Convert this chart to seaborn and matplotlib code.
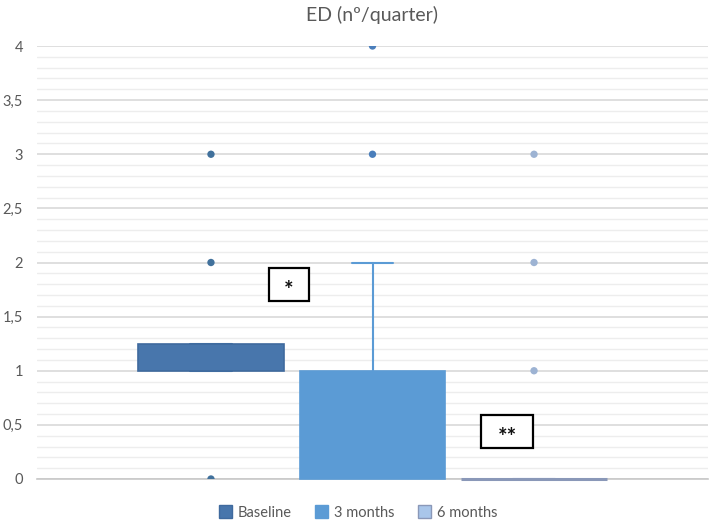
import matplotlib
matplotlib.use("Agg")
import matplotlib.pyplot as plt
import seaborn as sns
import pandas as pd
from matplotlib.patches import Patch, Rectangle
from matplotlib.ticker import MultipleLocator, FuncFormatter

# ---- data ----
series = ["Baseline", "3 months", "6 months"]
q1 = [1.0, 0.0, 0.0]
q3 = [1.25, 1.0, 0.0]
median = [1.0, 0.0, 0.0]
whisker_low = [1.0, 0.0, 0.0]
whisker_high = [1.25, 2.0, 0.0]
outliers = [[0, 2, 3], [3, 4], [1, 2, 3]]
title = "ED (nº/quarter)"
annotations = ["*", "**"]

fill_colors = ["#4876AC", "#5B9BD5", "#A9C6EA"]
edge_colors = ["#3F6A9E", "#5B9BD5", "#8A98B8"]
marker_colors = ["#41719C", "#4A7EBB", "#9DB3D3"]

sns.set_theme(style="white")
plt.rcParams["font.family"] = ["Lato", "DejaVu Sans"]

fig = plt.figure(figsize=(7.09, 5.30), dpi=100)
ax = fig.add_axes([37 / 709, 1 - 479 / 530, (708 - 37) / 709, (479 - 46) / 530])

positions = [0, 1, 2]
for i in range(3):
    stats = [dict(med=median[i], q1=q1[i], q3=q3[i], whislo=whisker_low[i],
                  whishi=whisker_high[i], fliers=[], label=series[i])]
    flat = q1[i] == q3[i]
    art = ax.bxp(stats, positions=[positions[i]], widths=0.9, patch_artist=True,
                 showfliers=False, manage_ticks=False,
                 boxprops=dict(facecolor=fill_colors[i], edgecolor=edge_colors[i],
                               linewidth=2.2 if flat else 1.2),
                 medianprops=dict(linewidth=0),
                 whiskerprops=dict(color=fill_colors[i], linewidth=1.5),
                 capprops=dict(color=fill_colors[i], linewidth=1.5),
                 capwidths=0.26, zorder=3)
    for b in art["boxes"]:
        b.set_clip_on(False)
        b.set_zorder(4)

# outliers through seaborn
rows = []
for i, s in enumerate(series):
    for v in outliers[i]:
        rows.append(dict(series=s, pos=positions[i], value=v))
df = pd.DataFrame(rows)
sns.scatterplot(data=df, x="pos", y="value", hue="series", hue_order=series,
                palette=marker_colors, s=28, edgecolor="none", legend=False,
                ax=ax, zorder=4)

# axes styling
ax.set_xlim(1 - 2.077, 1 + 2.077)
ax.set_ylim(0, 4)
ax.yaxis.set_major_locator(MultipleLocator(0.5))
ax.yaxis.set_minor_locator(MultipleLocator(0.1))
ax.yaxis.set_major_formatter(FuncFormatter(lambda v, p: ("%g" % v).replace(".", ",")))
ax.grid(which="minor", axis="y", color="#EDEDED", linewidth=1.0, zorder=0)
ax.grid(which="major", axis="y", color="#D9D9D9", linewidth=1.2, zorder=0)
ax.set_axisbelow(True)
ax.set_xticks([])
ax.set_xlabel("")
ax.set_ylabel("")
for side in ["left", "right", "top"]:
    ax.spines[side].set_visible(False)
ax.spines["bottom"].set_color("#C8C8C8")
ax.spines["bottom"].set_linewidth(1.2)
ax.spines["bottom"].set_zorder(1)
ax.tick_params(axis="y", which="both", length=0, labelsize=10.5,
               labelcolor="#595959", pad=10)

fig.text(372 / 709, 1 - 15 / 530, title, ha="center", va="center",
         fontsize=14, color="#595959")

# significance boxes (center x, center y, width, height in data units)
ann_boxes = [(0.483, 1.80, 0.248, 0.305), (1.833, 0.44, 0.322, 0.305)]
for (cx, cy, w, h), label in zip(ann_boxes, annotations):
    ax.add_patch(Rectangle((cx - w / 2, cy - h / 2), w, h, facecolor="white",
                           edgecolor="black", linewidth=1.6, zorder=5))
    ax.text(cx, cy - 0.06, label, ha="center", va="center", fontsize=16,
            fontweight="bold", color="#111111", zorder=6)

handles = [Patch(facecolor=fill_colors[i], edgecolor=edge_colors[i], label=series[i])
           for i in range(3)]
fig.legend(handles=handles, loc="lower center", bbox_to_anchor=(358 / 709, -0.005),
           ncol=3, frameon=False, fontsize=10.5, labelcolor="#595959",
           handlelength=0.9, handleheight=0.9, handletextpad=0.4, columnspacing=1.6)

fig.savefig("out.png", dpi=100)
